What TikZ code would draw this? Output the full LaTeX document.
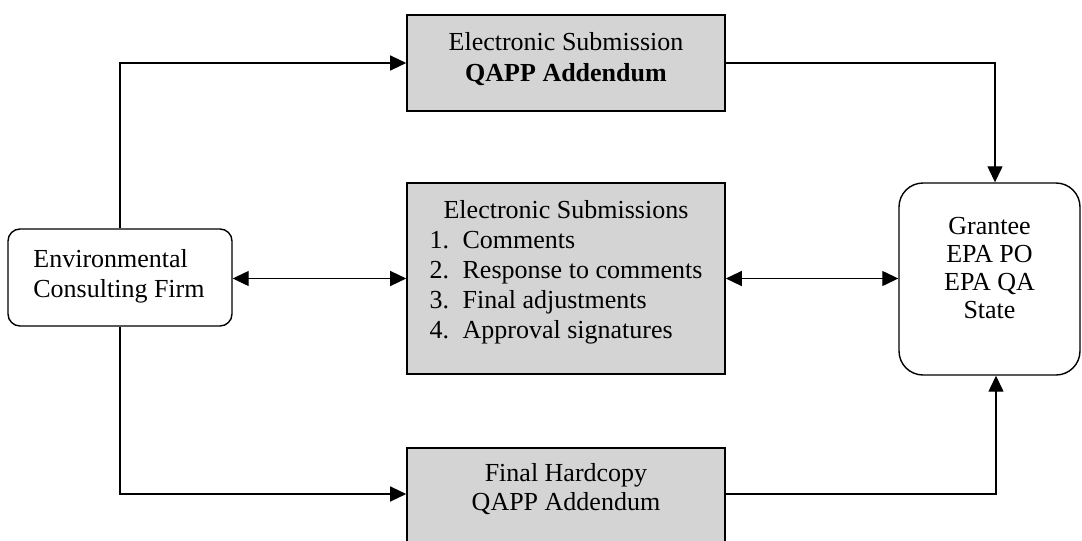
\documentclass[tikz,border=0pt]{standalone}
\usepackage{fontspec}
\setmainfont{Liberation Serif}
\usetikzlibrary{arrows.meta}
\definecolor{boxgray}{RGB}{212,212,212}
\begin{document}
\begin{tikzpicture}[x=1pt,y=-1pt,
  graybox/.style={draw=black, line width=1.6pt, fill=boxgray, inner sep=0pt},
  roundbox/.style={draw=black, line width=1.4pt, fill=white, inner sep=0pt},
  txt/.style={inner sep=0pt, font=\fontsize{26}{30}\selectfont},
  conn/.style={line width=1.3pt},
  tip/.tip={Triangle[length=16pt,width=15pt]}]
\useasboundingbox (0,0) rectangle (1082,541);
% boxes
\node[roundbox, rounded corners=12pt, minimum width=224pt, minimum height=97pt] (env) at (120,277.5) {};
\node[graybox, minimum width=318pt, minimum height=96pt] (top) at (566,63) {};
\node[graybox, minimum width=318pt, minimum height=191pt] (mid) at (566,278.5) {};
\node[graybox, minimum width=318pt, minimum height=130pt, anchor=north] (hard) at (566,447) {};
\node[roundbox, rounded corners=24pt, minimum width=181pt, minimum height=192pt] (grant) at (989.5,279) {};
% texts
\node[txt, align=left] (envtxt) at (119,276) {Environmental\\Consulting Firm};
\node[txt, align=center, font=\fontsize{26}{31}\selectfont] (toptxt) at (566,59) {Electronic Submission\\\textbf{QAPP Addendum}};
\node[txt] (midtxt) at (566,272) {\begin{tabular}{@{}l@{}}
\multicolumn{1}{@{}c@{}}{Electronic Submissions}\\
\makebox[33pt][l]{1.}Comments\\
\makebox[33pt][l]{2.}Response to comments\\
\makebox[33pt][l]{3.}Final adjustments\\
\makebox[33pt][l]{4.}Approval signatures
\end{tabular}};
\node[txt, align=center, font=\fontsize{26}{29}\selectfont] (hardtxt) at (566,489) {Final Hardcopy\\QAPP Addendum};
\node[txt, align=center, font=\fontsize{26}{28}\selectfont] (granttxt) at (989.5,268) {Grantee\\EPA PO\\EPA QA\\State};
% connectors
\coordinate (hy) at (0,494);
\draw[conn, -tip] (env.north) |- (top.west);
\draw[conn, -tip] (top.east) -| ([xshift=5.5pt]grant.north);
\draw[conn, tip-tip] (mid.west -| env.east) -- (mid.west);
\draw[conn, tip-tip] (mid.east) -- (mid.east -| grant.west);
\draw[conn, -tip] (env.south) |- (hard.west |- hy);
\draw[conn, -tip] (hard.east |- hy) -| ([xshift=6.5pt]grant.south);
\end{tikzpicture}
\end{document}
